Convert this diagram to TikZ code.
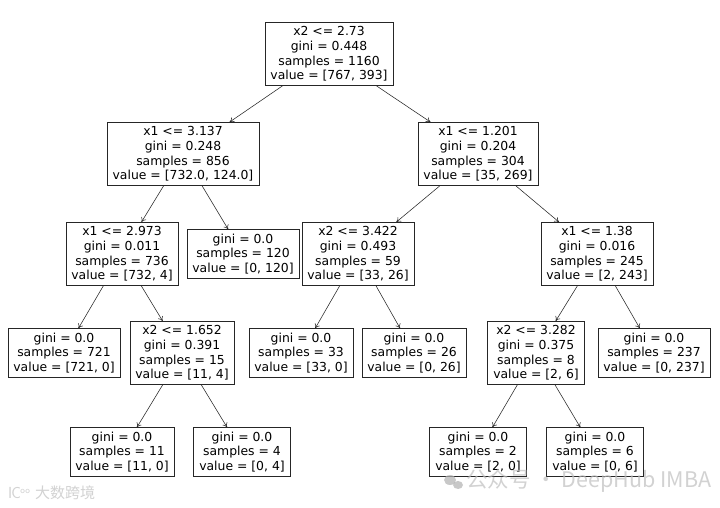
\documentclass[tikz,border=0pt]{standalone}
\usepackage{fontspec}
\setmainfont{DejaVu Sans}
\newfontfamily\cjk{Noto Sans CJK SC}
\usetikzlibrary{arrows.meta}
\begin{document}
\begin{tikzpicture}[x=1pt,y=1pt,
  tnode/.style={draw=black!85, line width=0.6pt, fill=white, align=center,
    font=\fontsize{12.4}{14.8}\selectfont, inner xsep=5.5pt, inner ysep=4pt},
  edge/.style={-{To[length=4.5pt,width=5.5pt]}, line width=0.55pt, black!85},
  wm/.style={text=black!25, font=\cjk\fontsize{21.5}{23}\selectfont, anchor=west, inner sep=0pt}]
\useasboundingbox (0,0) rectangle (720,508);
\fill[white] (0,0) rectangle (720,508);
% root
\node[tnode] (r) at (329,454) {x2 <= 2.73\\gini = 0.448\\samples = 1160\\value = [767, 393]};
% depth 1
\node[tnode] (a) at (183,354) {x1 <= 3.137\\gini = 0.248\\samples = 856\\value = [732.0, 124.0]};
\node[tnode] (b) at (478,354) {x1 <= 1.201\\gini = 0.204\\samples = 304\\value = [35, 269]};
% depth 2
\node[tnode] (aa) at (122,254) {x1 <= 2.973\\gini = 0.011\\samples = 736\\value = [732, 4]};
\node[tnode] (ab) at (243,254) {gini = 0.0\\samples = 120\\value = [0, 120]};
\node[tnode] (ba) at (358,254) {x2 <= 3.422\\gini = 0.493\\samples = 59\\value = [33, 26]};
\node[tnode] (bb) at (597,254) {x1 <= 1.38\\gini = 0.016\\samples = 245\\value = [2, 243]};
% depth 3
\node[tnode] (aaa) at (64,155) {gini = 0.0\\samples = 721\\value = [721, 0]};
\node[tnode] (aab) at (182,155) {x2 <= 1.652\\gini = 0.391\\samples = 15\\value = [11, 4]};
\node[tnode] (baa) at (301,155) {gini = 0.0\\samples = 33\\value = [33, 0]};
\node[tnode] (bab) at (414,155) {gini = 0.0\\samples = 26\\value = [0, 26]};
\node[tnode] (bba) at (536,155) {x2 <= 3.282\\gini = 0.375\\samples = 8\\value = [2, 6]};
\node[tnode] (bbb) at (654,155) {gini = 0.0\\samples = 237\\value = [0, 237]};
% depth 4
\node[tnode] (aaba) at (122,56) {gini = 0.0\\samples = 11\\value = [11, 0]};
\node[tnode] (aabb) at (242,56) {gini = 0.0\\samples = 4\\value = [0, 4]};
\node[tnode] (bbaa) at (478,56) {gini = 0.0\\samples = 2\\value = [2, 0]};
\node[tnode] (bbab) at (595,56) {gini = 0.0\\samples = 6\\value = [0, 6]};
% edges
\foreach \p/\c in {r/a, r/b, a/aa, a/ab, b/ba, b/bb, aa/aaa, aa/aab, ba/baa, ba/bab,
  bb/bba, bb/bbb, aab/aaba, aab/aabb, bba/bbaa, bba/bbab}
  \draw[edge] (\p) -- (\c);
% watermarks
\begin{scope}[opacity=0.7]
\fill[black!30] (450,28) ellipse (6pt and 5pt);
\fill[black!30] (458,23) ellipse (5pt and 4pt);
\node[wm] (wmr) at (466,27) {公众号 · DeepHub IMBA};
\node[wm, font=\cjk\fontsize{15}{17}\selectfont] (wml) at (35,15) {大数跨境};
\node[wm, font=\sffamily\fontsize{16}{18}\selectfont] (wmi) at (8,15) {I\kern-1pt C\kern-0.5pt\raisebox{5pt}{\fontsize{9}{10}\selectfont oo}};
\end{scope}
\end{tikzpicture}
\end{document}
